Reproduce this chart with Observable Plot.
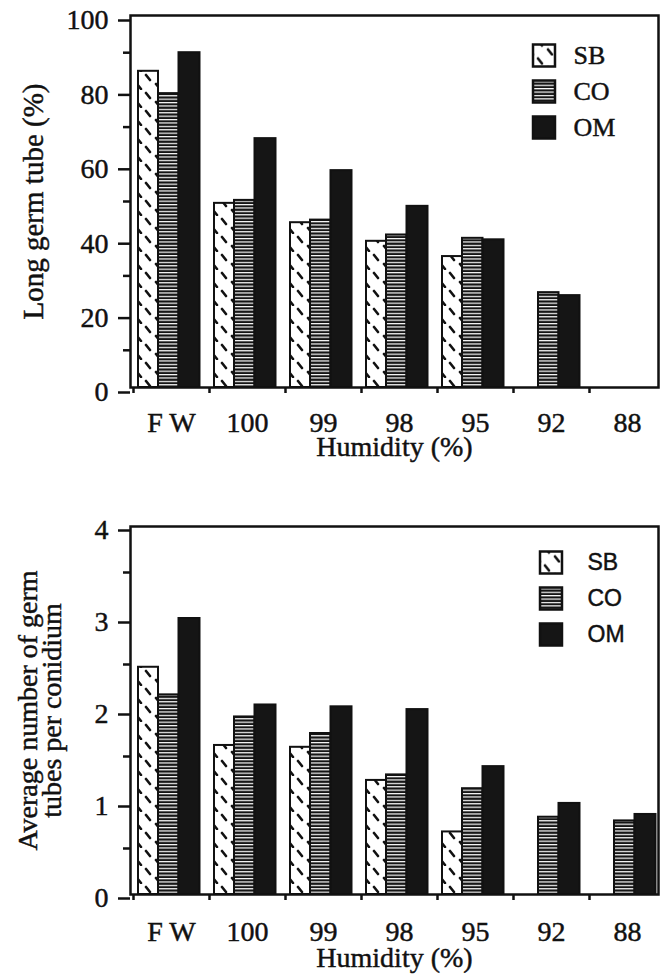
<!DOCTYPE html>
<html><head><meta charset="utf-8">
<script src="https://cdn.jsdelivr.net/npm/d3@7"></script>
<script src="https://cdn.jsdelivr.net/npm/@observablehq/plot@0.6"></script>
<style>
body{margin:0;background:#fff;}
#charts svg{display:block;}
#charts svg text{stroke:#111;stroke-width:0.45px;}
g[aria-label="legend-serif"] text{letter-spacing:4px;}
g[aria-label="legend-sans"] text{letter-spacing:5px;}
</style></head><body>
<svg width="0" height="0" style="position:absolute">
<defs>
<pattern id="pSB" patternUnits="userSpaceOnUse" width="19" height="18">
 <rect width="19" height="18" fill="#fff"/>
 <path d="M13,3 L17,8 M4,12 L8,17" stroke="#111" stroke-width="2.6" stroke-linecap="round"/>
</pattern>
<pattern id="pCO" patternUnits="userSpaceOnUse" width="6" height="3.4">
 <rect width="6" height="3.4" fill="#151515"/>
 <rect y="0" width="6" height="1.2" fill="#fff"/>
</pattern>
</defs></svg>
<div id="charts"></div>
<script>
// ---- data ----
const categories = ["F W", "100", "99", "98", "95", "92", "88"];
const series = ["SB", "CO", "OM"];

// Long germ tube (%)
const longSB = [85, 49.5, 44.3, 39.3, 35.2, null, null];
const longCO = [79, 50.3, 45, 41, 40.1, 25.5, null];
const longOM = [90, 66.9, 58.3, 48.7, 39.7, 24.7, null];

// Average number of germ tubes per conidium
const avgSB = [2.47, 1.62, 1.60, 1.24, 0.68, null, null];
const avgCO = [2.17, 1.93, 1.75, 1.30, 1.15, 0.84, 0.80];
const avgOM = [3.0, 2.06, 2.04, 2.01, 1.39, 0.99, 0.87];

const topMajor = [0, 20, 40, 60, 80, 100];
const topMinor = [10, 30, 50, 70, 90];
const botMajor = [0, 1, 2, 3, 4];
const botMinor = [0.5, 1.5, 2.5, 3.5];

// ---- styles ----
const fills = {SB: "url(#pSB)", CO: "url(#pCO)", OM: "#151515"};
const insets = {SB: [5, 51], CO: [25, 30.5], OM: [45.5, 9.5]};
const halfBand = 38;

function rows(vals) {
  return categories.map((c, i) => ({cat: c, v: vals[i]})).filter(d => d.v != null);
}

function chart(o) {
  const marks = [];
  o.values.forEach((vals, k) => {
    const s = series[k];
    marks.push(Plot.barY(rows(vals), {
      x: "cat", y: "v", fill: fills[s], stroke: "#111", strokeWidth: 2,
      insetLeft: insets[s][0], insetRight: insets[s][1]
    }));
  });
  marks.push(Plot.frame({stroke: "#111", strokeWidth: 2.5}));
  marks.push(Plot.axisY(o.major, {anchor: "left", label: null, tickSize: 12, tickPadding: 10, strokeWidth: 2.5, dy: o.labelDy, fontSize: 28, tickFormat: d => String(d)}));
  marks.push(Plot.axisY(o.minor, {anchor: "left", label: null, tickSize: 7, strokeWidth: 2.5, tickFormat: () => ""}));
  marks.push(Plot.axisX(categories, {anchor: "bottom", label: null, tickSize: 0, tickPadding: o.xPad, fontSize: 28}));
  marks.push(Plot.axisX(categories, {anchor: "bottom", label: null, tickSize: 6, strokeWidth: 2.5, dx: -halfBand, tickFormat: () => ""}));
  marks.push(Plot.text(["Humidity (%)"], {frameAnchor: "bottom", textAnchor: "middle", lineAnchor: "middle", dy: o.titleDy, fontSize: 28}));
  marks.push(Plot.text([o.yTitle], {frameAnchor: "left", textAnchor: "middle", lineAnchor: "middle", rotate: -90, dx: o.yTitleDx, fontSize: o.yTitleFont, lineHeight: 0.85}));
  series.forEach((s, i) => {
    marks.push(Plot.dot([s], {frameAnchor: "top-right", dx: o.legBoxDx, dy: o.legDy0 + i * o.legStep, symbol: "square", r: 12.4, fill: fills[s], stroke: "#111", strokeWidth: 2.5}));
    marks.push(Plot.text([s], {frameAnchor: "top-right", dx: o.legTextDx, dy: o.legDy0 + i * o.legStep, textAnchor: "start", lineAnchor: "middle", text: d => d, fontSize: o.legFont, fontFamily: o.legFamily, fontWeight: o.legWeight, ariaLabel: o.legLabel}));
  });
  return Plot.plot({
    width: 661, height: o.height,
    marginLeft: 130, marginRight: 3, marginTop: o.marginTop, marginBottom: o.marginBottom,
    style: {background: "#fff", color: "#111", fontFamily: "'Liberation Serif', serif", fontSize: "28px", overflow: "visible"},
    x: {type: "band", domain: categories, range: [133, 665], padding: 0},
    y: {domain: o.yDomain},
    marks
  });
}

const chartTop = chart({
  values: [longSB, longCO, longOM], yDomain: [0, 100], major: topMajor, minor: topMinor,
  height: 470, marginTop: 15, marginBottom: 83, labelDy: 5, xPad: 25, titleDy: 60,
  yTitle: "Long germ tube (%)", yTitleDx: -95, yTitleFont: 29,
  legBoxDx: -114.5, legTextDx: -85, legDy0: 40, legStep: 36, legFont: 26, legWeight: "normal",
  legFamily: "'Liberation Serif', serif", legLabel: "legend-serif"
});
const chartBottom = chart({
  values: [avgSB, avgCO, avgOM], yDomain: [0, 4], major: botMajor, minor: botMinor,
  height: 509, marginTop: 56, marginBottom: 85, labelDy: 4, xPad: 27, titleDy: 64,
  yTitle: "Average number of germ\ntubes per conidium", yTitleDx: -89, yTitleFont: 28,
  legBoxDx: -107.5, legTextDx: -71, legDy0: 36, legStep: 36, legFont: 23, legWeight: 500,
  legFamily: "'Liberation Sans', sans-serif", legLabel: "legend-sans"
});
document.getElementById("charts").append(chartTop, chartBottom);
</script>
</body></html>
